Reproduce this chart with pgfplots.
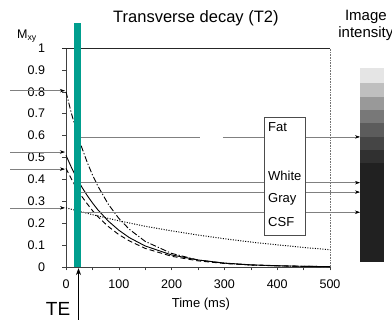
\documentclass[border=0pt]{standalone}
\usepackage{pgfplots}
\pgfplotsset{compat=1.18}
\usepackage{fontspec}
\setmainfont{Liberation Sans}
\usetikzlibrary{arrows.meta}
\definecolor{tealbar}{RGB}{0,158,142}
\tikzset{guide/.style={black!50, line width=0.5pt},
  guidearr/.style={black!50, line width=0.5pt, -{Stealth[length=5pt,width=3.5pt,color=black]}}}

\begin{document}
\begin{tikzpicture}
\begin{axis}[name=ax, scale only axis, width=264pt, height=219pt,
  xmin=0, xmax=500, ymin=0, ymax=1, clip=false,
  axis lines=left, axis line style={-, black!75, line width=0.6pt},
  xtick={0,100,200,300,400,500}, xticklabels={0,100,200,300,400,500},
  minor xtick={50,150,250,350,450},
  ytick={0,0.1,0.2,0.3,0.4,0.5,0.6,0.7,0.8,0.9,1},
  yticklabels={0,0.1,0.2,0.3,0.4,0.5,0.6,0.7,0.8,0.9,1},
  tick align=outside, major tick length=3.5pt, minor tick length=3.5pt,
  tick style={black!75, line width=0.5pt},
  tick label style={font=\fontsize{12.5}{14}\selectfont},
  xticklabel style={anchor=center, yshift=-14pt},
  yticklabel style={anchor=east, xshift=-14pt},
  xlabel={Time (ms)},
  xlabel style={font=\fontsize{13}{15}\selectfont, at={(axis description cs:0.511,0)}, anchor=center, yshift=-37pt},
]
% Fat (dash-dot)
\addplot[black, line width=0.9pt, dash pattern=on 6pt off 2pt on 1.2pt off 2pt] coordinates {
(0,0.800) (10,0.704) (20,0.619) (30,0.545) (40,0.479) (50,0.421) (60,0.371) (80,0.287)
(100,0.222) (120,0.172) (150,0.117) (200,0.062) (250,0.032) (300,0.017) (350,0.009)
(400,0.005) (450,0.003) (500,0.001)};
% White (solid)
\addplot[black, line width=0.9pt] coordinates {
(0,0.510) (10,0.456) (20,0.408) (30,0.365) (40,0.327) (50,0.293) (60,0.262) (80,0.210)
(100,0.168) (120,0.134) (150,0.096) (200,0.055) (250,0.032) (300,0.018) (350,0.010)
(400,0.006) (450,0.003) (500,0.002)};
% Gray (dashed)
\addplot[black, line width=0.9pt, dash pattern=on 5pt off 3pt] coordinates {
(0,0.450) (10,0.403) (20,0.360) (30,0.322) (40,0.289) (50,0.258) (60,0.231) (80,0.185)
(100,0.148) (120,0.119) (150,0.085) (200,0.049) (250,0.028) (300,0.016) (350,0.009)
(400,0.005) (450,0.003) (500,0.002)};
% CSF (dotted)
\addplot[black, line width=1pt, dash pattern=on 1pt off 1.5pt] coordinates {
(0,0.270) (50,0.239) (100,0.211) (150,0.186) (200,0.165) (250,0.146) (300,0.129)
(350,0.114) (400,0.101) (450,0.089) (500,0.079)};

% frame top and right
\draw[black!85, line width=0.6pt] (axis cs:-7.6,1) -- (axis cs:500,1);
\draw[black!55, line width=0.6pt, densely dotted] (axis cs:500,0) -- (axis cs:500,1);

% TE bar
\fill[tealbar] (axis cs:15.7,0) rectangle (axis cs:27.8,1.114);

% left arrows
\draw[guidearr] (axis cs:-106,0.805) -- (axis cs:-2,0.805);
\draw[guidearr] (axis cs:-106,0.525) -- (axis cs:-2,0.525);
\draw[guidearr] (axis cs:-106,0.447) -- (axis cs:-2,0.447);
\draw[guidearr] (axis cs:-106,0.270) -- (axis cs:-2,0.270);

% right guide lines
\draw[guide] (axis cs:27.8,0.594) -- (axis cs:253.8,0.594);
\draw[guidearr] (axis cs:297.3,0.594) -- (axis cs:556.8,0.594);
\draw[guidearr] (axis cs:27.8,0.385) -- (axis cs:556.8,0.385);
\draw[guidearr] (axis cs:27.8,0.342) -- (axis cs:556.8,0.342);
\draw[guidearr] (axis cs:27.8,0.250) -- (axis cs:556.8,0.250);

% label box
\draw[black!70, line width=0.6pt, fill=white] (axis cs:375,0.685) rectangle (axis cs:454,0.143);
\node[anchor=west, font=\fontsize{13}{15}\selectfont, inner sep=0pt] at (axis cs:382.6,0.639) {Fat};
\node[anchor=west, font=\fontsize{13}{15}\selectfont, inner sep=0pt] at (axis cs:382.6,0.417) {White};
\node[anchor=west, font=\fontsize{13}{15}\selectfont, inner sep=0pt] at (axis cs:382.6,0.311) {Gray};
\node[anchor=west, font=\fontsize{13}{15}\selectfont, inner sep=0pt] at (axis cs:382.6,0.207) {CSF};

% gray scale bar
\fill[black!10] (axis cs:556.8,0.907) rectangle (axis cs:602.3,0.839);
\fill[black!25] (axis cs:556.8,0.839) rectangle (axis cs:602.3,0.777);
\fill[black!40] (axis cs:556.8,0.777) rectangle (axis cs:602.3,0.717);
\fill[black!53] (axis cs:556.8,0.717) rectangle (axis cs:602.3,0.656);
\fill[black!64] (axis cs:556.8,0.656) rectangle (axis cs:602.3,0.595);
\fill[black!73] (axis cs:556.8,0.595) rectangle (axis cs:602.3,0.534);
\fill[black!81] (axis cs:556.8,0.534) rectangle (axis cs:602.3,0.473);
\fill[black!87] (axis cs:556.8,0.473) rectangle (axis cs:602.3,0.023);

% texts
\node[font=\fontsize{16.5}{19}\selectfont] at (axis cs:246,1.137) {Transverse decay (T2)};
\node[align=center, font=\fontsize{15}{17}\selectfont] at (axis cs:568,1.103) {Image\\intensity};
\node[font=\fontsize{12.5}{14}\selectfont] at (axis cs:-74,1.055) {M\textsubscript{xy}};
\node[font=\fontsize{19}{21}\selectfont] at (axis cs:-15,-0.192) {TE};
\draw[black, line width=0.8pt, -{Stealth[length=7pt,width=5pt]}] (axis cs:23.7,-0.242) -- (axis cs:23.7,-0.005);
\end{axis}
\pgfresetboundingbox
\path[use as bounding box] ([xshift=-66pt,yshift=-56pt]ax.south west) rectangle ([xshift=326pt,yshift=267pt]ax.south west);
\end{tikzpicture}
\end{document}
